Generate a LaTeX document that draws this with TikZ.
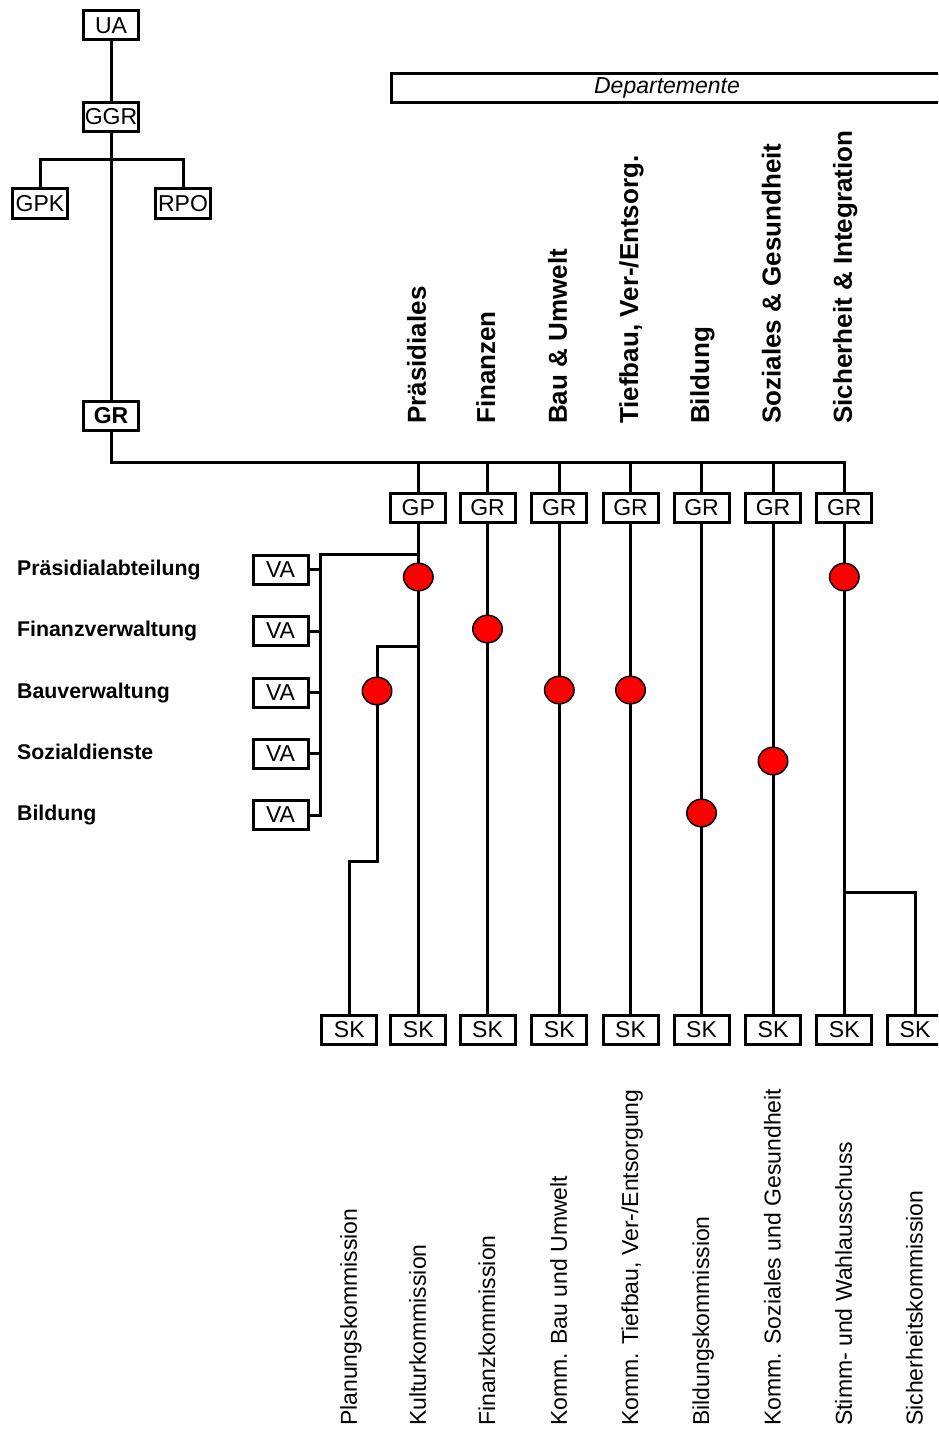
\documentclass[tikz,border=0pt]{standalone}
\usepackage{fontspec}
\setmainfont{Liberation Sans}
\usetikzlibrary{shapes.geometric}
\begin{document}
\begin{tikzpicture}[x=1bp,y=-1bp,
  box/.style={draw, line width=3bp, minimum width=55bp, minimum height=29bp, inner sep=0pt, font=\fontsize{23bp}{27bp}\selectfont},
  conn/.style={line width=3bp},
  dot/.style={ellipse, draw, line width=1.5bp, fill=red, minimum width=29.5bp, minimum height=27.5bp, inner sep=0pt},
  dept/.style={rotate=90, anchor=base west, inner sep=0pt, font=\fontsize{26bp}{30bp}\selectfont\bfseries},
  komm/.style={rotate=90, anchor=base west, inner sep=0pt, font=\fontsize{23bp}{27bp}\selectfont},
  amt/.style={anchor=base west, inner sep=0pt, font=\fontsize{21.3bp}{24bp}\selectfont\bfseries}]
\useasboundingbox (0,0) rectangle (938,1431);
\clip (0,0) rectangle (938,1431);

% upper tree
\node[box] (UA) at (111,25.5) {UA};
\node[box] (GGR) at (111,117) {GGR};
\node[box] (GPK) at (40,203.5) {GPK};
\node[box] (RPO) at (183,203.5) {RPO};
\node[box, font=\fontsize{23bp}{27bp}\selectfont\bfseries] (GR) at (111,416) {GR};

% Departemente banner
\node[box, minimum width=551bp, font=\fontsize{23bp}{27bp}\selectfont\itshape] (dep) at (667,88) {Departemente};

% department boxes
\node[box] (D1) at (418.3,508) {GP};
\node[box] (D2) at (487.5,508) {GR};
\node[box] (D3) at (559.3,508) {GR};
\node[box] (D4) at (630.5,508) {GR};
\node[box] (D5) at (701.5,508) {GR};
\node[box] (D6) at (773,508) {GR};
\node[box] (D7) at (844.3,508) {GR};

% commission boxes
\node[box] (S1) at (349.3,1030) {SK};
\node[box] (S2) at (418.3,1030) {SK};
\node[box] (S3) at (487.5,1030) {SK};
\node[box] (S4) at (559.3,1030) {SK};
\node[box] (S5) at (630.5,1030) {SK};
\node[box] (S6) at (701.5,1030) {SK};
\node[box] (S7) at (773,1030) {SK};
\node[box] (S8) at (844.3,1030) {SK};
\node[box] (S9) at (915,1030) {SK};

% administration boxes
\node[box] (V1) at (280.5,569.5) {VA};
\node[box] (V2) at (280.5,631) {VA};
\node[box] (V3) at (280.5,692.5) {VA};
\node[box] (V4) at (280.5,753.5) {VA};
\node[box] (V5) at (280.5,815) {VA};

% connectors upper tree
\coordinate (gb) at (111,160);
\coordinate (hb) at (111,462);
\draw[conn] (UA) -- (GGR);
\draw[conn] (GGR) -- (GR);
\draw[conn] (GPK.north) |- (gb) -| (RPO.north);
\draw[conn] (GR.south) |- (D7.north |- hb) -- (D7.north);
\foreach \i in {1,...,6}{\draw[conn] (D\i.north) -- (D\i.north |- hb);}

% columns
\draw[conn] (D1.south) -- (S2.north);
\draw[conn] (D2.south) -- (S3.north);
\draw[conn] (D3.south) -- (S4.north);
\draw[conn] (D4.south) -- (S5.north);
\draw[conn] (D5.south) -- (S6.north);
\draw[conn] (D6.south) -- (S7.north);
\draw[conn] (D7.south) -- (S8.north);

% VA bus
\coordinate (vb) at (320.7,554);
\coordinate (vt) at (418.3,554);
\draw[conn] (vt) -- (vb) -- (vb |- V5.east) -- (V5.east);
\foreach \i in {1,...,4}{\draw[conn] (V\i.east) -- (V\i.east -| vb);}

% Planung branch
\coordinate (pkA) at (418.3,646);
\coordinate (pkB) at (377,861);
\draw[conn] (pkA) -| (pkB) -| (S1.north);

% Sicherheit branch
\coordinate (skA) at (844.3,892);
\draw[conn] (skA) -| (S9.north);

% red dots
\node[dot] (e1) at (418.3,577) {};
\node[dot] (e2) at (487.5,629) {};
\node[dot] (e3) at (377,691) {};
\node[dot] (e4) at (559.3,690) {};
\node[dot] (e5) at (630.5,690) {};
\node[dot] (e6) at (701.5,813) {};
\node[dot] (e7) at (773,761) {};
\node[dot] (e8) at (844.3,577) {};

% left labels
\node[amt] (a1) at (17,575) {Präsidialabteilung};
\node[amt] (a2) at (17,636.5) {Finanzverwaltung};
\node[amt] (a3) at (17,698) {Bauverwaltung};
\node[amt] (a4) at (17,759) {Sozialdienste};
\node[amt] (a5) at (17,820.5) {Bildung};

% department titles
\node[dept] (t1) at (425.8,424) {Präsidiales};
\node[dept] (t2) at (495,424) {Finanzen};
\node[dept] (t3) at (566.8,424) {Bau \& Umwelt};
\node[dept] (t4) at (638,424) {Tiefbau, Ver-/Entsorg.};
\node[dept] (t5) at (709,424) {Bildung};
\node[dept] (t6) at (780.5,424) {Soziales \& Gesundheit};
\node[dept] (t7) at (851.8,424) {Sicherheit \& Integration};

% commission titles
\node[komm] (k1) at (356.8,1426) {Planungskommission};
\node[komm] (k2) at (425.8,1426) {Kulturkommission};
\node[komm] (k3) at (495,1426) {Finanzkommission};
\node[komm] (k4) at (566.8,1426) {Komm. Bau und Umwelt};
\node[komm] (k5) at (638,1426) {Komm. Tiefbau, Ver-/Entsorgung};
\node[komm] (k6) at (709,1426) {Bildungskommission};
\node[komm] (k7) at (780.5,1426) {Komm. Soziales und Gesundheit};
\node[komm] (k8) at (851.8,1426) {Stimm- und Wahlausschuss};
\node[komm] (k9) at (922.5,1426) {Sicherheitskommission};
\end{tikzpicture}
\end{document}
